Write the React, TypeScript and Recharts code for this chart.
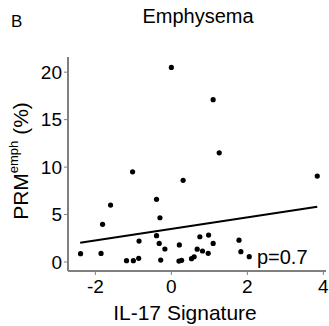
import React from "react";
import {
  ScatterChart,
  Scatter,
  XAxis,
  YAxis,
  ReferenceLine,
  ReferenceDot,
} from "recharts";

const il17: number[] = [
  0.0, 1.1, 1.26, -1.02, 3.84, 0.31, -0.39, -1.6, -0.3, -1.81, -0.39, 0.75,
  0.98, -0.85, -0.32, 0.21, 1.1, 1.78, -0.17, 0.68, 0.82, 0.97, 1.83, 2.05,
  -2.39, -1.85, -1.18, -1.0, -0.86, -0.28, 0.2, 0.27, 0.53, 0.6,
];
const prmEmph: number[] = [
  20.5, 17.1, 11.5, 9.5, 9.05, 8.6, 6.6, 6.0, 4.66, 3.97, 2.77, 2.66, 2.84,
  2.2, 1.96, 1.8, 1.96, 2.3, 1.37, 1.35, 1.16, 0.91, 1.09, 0.56, 0.88, 0.9,
  0.14, 0.14, 0.39, 0.2, 0.1, 0.17, 0.35, 0.55,
];
const fitX: number[] = [-2.4, 3.84];
const fitY: number[] = [2.03, 5.82];
const xTicks: number[] = [-2, 0, 2, 4];
const yTicks: number[] = [0, 5, 10, 15, 20];
const pLabel = "p=0.7";

const points = il17.map((x, i) => ({ x, y: prmEmph[i] }));

const FONT = "'Liberation Sans', Arial, sans-serif";

const YLabel = () => {
  const cx = 20;
  const cy = 161;
  return (
    <text
      x={cx}
      y={cy}
      transform={`rotate(-90, ${cx}, ${cy})`}
      textAnchor="middle"
      dominantBaseline="central"
      fontFamily={FONT}
      fontSize={21}
      fill="#000"
    >
      PRM
      <tspan fontSize={13} dy={-7}>
        emph
      </tspan>
      <tspan dy={7}> (%)</tspan>
    </text>
  );
};

const XLabel = () => (
  <text
    x={185}
    y={320}
    textAnchor="middle"
    fontFamily={FONT}
    fontSize={21}
    fill="#000"
  >
    IL-17 Signature
  </text>
);

export default function App() {
  return (
    <div style={{ position: "absolute", left: 0, top: 0 }}>
      <ScatterChart
        width={329}
        height={326}
        margin={{ top: 57, right: 3, bottom: 0, left: 0 }}
      >
        <text x={11} y={27} fontFamily={FONT} fontSize={17} fill="#000">
          B
        </text>
        <text
          x={198}
          y={23}
          textAnchor="middle"
          fontFamily={FONT}
          fontSize={20}
          fill="#000"
        >
          Emphysema
        </text>
        <XAxis
          type="number"
          dataKey="x"
          domain={[-2.72, 4.07]}
          ticks={xTicks}
          allowDataOverflow
          height={55}
          axisLine={{ stroke: "#808080", strokeWidth: 2 }}
          tickLine={{ stroke: "#808080", strokeWidth: 1 }}
          tickSize={4}
          tickMargin={5}
          tick={{ fill: "#000", fontSize: 19, fontFamily: FONT }}
          label={<XLabel />}
        />
        <YAxis
          type="number"
          dataKey="y"
          domain={[-0.95, 21.6]}
          ticks={yTicks}
          allowDataOverflow
          width={68}
          axisLine={{ stroke: "#808080", strokeWidth: 2 }}
          tickLine={{ stroke: "#808080", strokeWidth: 1 }}
          tickSize={4}
          tick={{ fill: "#000", fontSize: 19, fontFamily: FONT }}
          label={<YLabel />}
        />
        <ReferenceLine
          segment={[
            { x: fitX[0], y: fitY[0] },
            { x: fitX[1], y: fitY[1] },
          ]}
          stroke="#000"
          strokeWidth={2}
          ifOverflow="visible"
        />
        <Scatter
          data={points}
          fill="#000"
          isAnimationActive={false}
          shape={(p: any) => <circle cx={p.cx} cy={p.cy} r={2.6} fill="#000" />}
        />
        <ReferenceDot
          x={2.2}
          y={0.4}
          r={0}
          ifOverflow="visible"
          label={(p: any) => {
            const vb = p.viewBox || {};
            return (
              <text
                x={(vb.x ?? 0) + (vb.width ?? 0) / 2 + 2}
                y={(vb.y ?? 0) + (vb.height ?? 0) / 2 + 6}
                fontFamily={FONT}
                fontSize={20}
                fill="#000"
              >
                {pLabel}
              </text>
            );
          }}
        />
      </ScatterChart>
    </div>
  );
}
